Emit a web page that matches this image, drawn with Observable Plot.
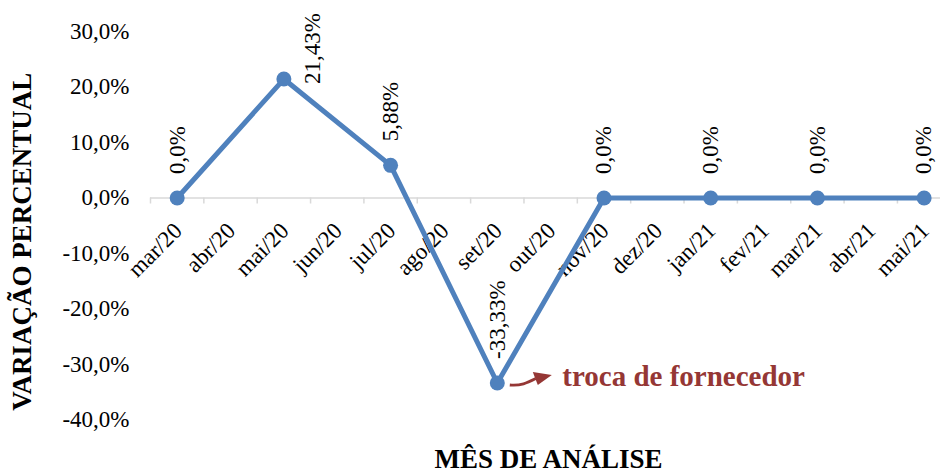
<!DOCTYPE html>
<html>
<head>
<meta charset="utf-8">
<script src="https://cdn.jsdelivr.net/npm/d3@7"></script>
<script src="https://cdn.jsdelivr.net/npm/@observablehq/plot@0.6"></script>
<style>
  html, body { margin: 0; padding: 0; background: #ffffff; }
  #chart { width: 940px; height: 472px; }
</style>
</head>
<body>
<div id="chart"></div>
<script>
// ---- data ----
const months = ["mar/20","abr/20","mai/20","jun/20","jul/20","ago/20","set/20","out/20","nov/20","dez/20","jan/21","fev/21","mar/21","abr/21","mai/21"];
const pointMonths = ["mar/20","mai/20","jul/20","set/20","nov/20","jan/21","mar/21","mai/21"];
const values = [0, 21.43, 5.88, -33.33, 0, 0, 0, 0];
const valueLabels = ["0,0%","21,43%","5,88%","-33,33%","0,0%","0,0%","0,0%","0,0%"];
const yTicks = [-40, -30, -20, -10, 0, 10, 20, 30];
const yTitle = "VARIAÇÃO PERCENTUAL";
const xTitle = "MÊS DE ANÁLISE";
const annotationMonth = "set/20";
const annotationText = "troca de fornecedor";

// ---- derived table ----
const data = pointMonths.map((m, k) => ({i: months.indexOf(m), v: values[k], label: valueLabels[k], month: m}));
const annotated = data.filter(d => d.month === annotationMonth);
const boundaries = months.map((m, i) => i - 0.5);

const blue = "#4f81bd";
const red = "#953735";
const fmt = d => (d < 0 ? "-" : "") + Math.abs(d).toFixed(1).replace(".", ",") + "%";

// custom annotation arrow drawn relative to the projected anchor point
const arrowMark = (index, scales) => {
  const g = d3.create("svg:g");
  for (const d of annotated) {
    const px = scales.x(d.i), py = scales.y(d.v);
    g.append("path")
      .attr("d", `M${px+13},${py+2.5} C${px+24},${py+3.5} ${px+30},${py+0.5} ${px+39},${py-4}`)
      .attr("fill", "none").attr("stroke", red).attr("stroke-width", 2.8);
    g.append("path")
      .attr("d", `M${px+55},${py-7.5} L${px+41},${py+2.5} L${px+36},${py-10.5} Z`)
      .attr("fill", red);
  }
  return g.node();
};

const chart = Plot.plot({
  width: 940,
  height: 472,
  marginLeft: 150,
  marginRight: 0,
  marginTop: 31,
  marginBottom: 52.5,
  style: {fontFamily: "'Liberation Serif', 'Times New Roman', serif", fontSize: "23px", background: "#ffffff", color: "#000000"},
  x: {type: "linear", domain: [-0.5, 14.307], axis: null},
  y: {domain: [-40, 30], axis: null},
  marks: [
    Plot.axisY({ticks: yTicks, tickSize: 0, tickPadding: 21, tickFormat: fmt, fontSize: 23, label: null}),
    Plot.ruleY([0], {stroke: "#d9d9d9", strokeWidth: 1.5}),
    Plot.ruleX(boundaries, {x: d => d, y1: 0, y2: 0, insetBottom: -6, stroke: "#d9d9d9", strokeWidth: 1.5}),
    Plot.text(months, {x: (d, i) => i, y: 0, text: d => d, rotate: -45, textAnchor: "end", lineAnchor: "middle", dx: 1, dy: 29, fontSize: 23}),
    Plot.line(data, {x: "i", y: "v", stroke: blue, strokeWidth: 5}),
    Plot.dot(data, {x: "i", y: "v", r: 7.5, fill: blue}),
    Plot.text(data.filter(d => d.month !== "mai/20"), {x: "i", y: "v", text: "label", rotate: -90, textAnchor: "start", lineAnchor: "middle", dy: -24, fontSize: 23}),
    Plot.text(data.filter(d => d.month === "mai/20"), {x: "i", y: "v", text: "label", rotate: -90, textAnchor: "start", lineAnchor: "middle", dx: 29, dy: 5, fontSize: 23}),
    arrowMark,
    Plot.text(annotated, {x: "i", y: "v", text: () => annotationText, textAnchor: "start", lineAnchor: "bottom", dx: 65, dy: 3, fontSize: 29, fontWeight: "bold", fill: red}),
    Plot.text([yTitle], {frameAnchor: "left", text: d => d, rotate: -90, textAnchor: "middle", lineAnchor: "bottom", dx: -120, dy: 16, fontSize: 27, fontWeight: "bold"}),
    Plot.text([xTitle], {frameAnchor: "bottom", text: d => d, textAnchor: "middle", lineAnchor: "bottom", dx: 3, dy: 47.5, fontSize: 27, fontWeight: "bold"})
  ]
});
document.getElementById("chart").appendChild(chart);
</script>
</body>
</html>
